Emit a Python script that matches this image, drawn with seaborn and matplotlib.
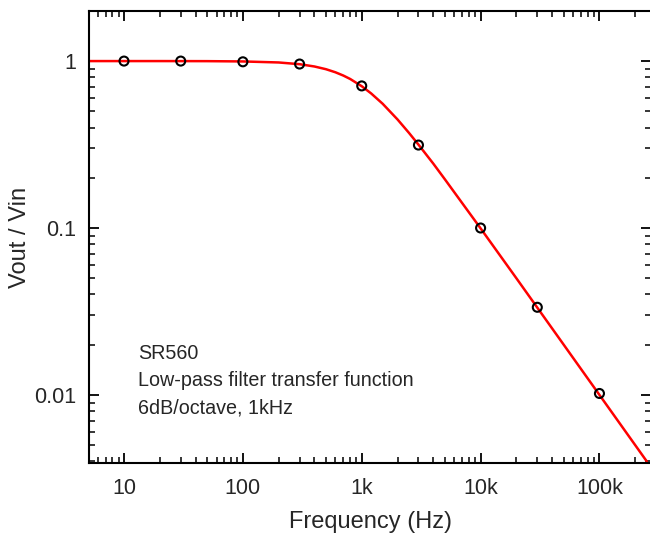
import matplotlib
matplotlib.use("Agg")
import matplotlib.pyplot as plt
import seaborn as sns
import pandas as pd
from matplotlib.ticker import LogLocator, FixedLocator, NullFormatter

# measured points
freq_pts = [10, 30, 100, 300, 1000, 3000, 10000, 30000, 100000]
gain_pts = [1.0, 1.0, 0.99, 0.96, 0.71, 0.314, 0.100, 0.0335, 0.0102]

# fitted curve
freq_curve = [5, 10, 20, 50, 100, 200, 300, 400, 500, 600, 700, 800, 1000, 1200,
              1500, 2000, 2500, 3000, 4000, 5000, 7000, 10000, 20000, 50000,
              100000, 250000]
gain_curve = [1.0, 1.0, 1.0, 0.999, 0.995, 0.981, 0.958, 0.928, 0.894, 0.857,
              0.819, 0.781, 0.707, 0.640, 0.555, 0.447, 0.371, 0.316, 0.243,
              0.196, 0.141, 0.0995, 0.050, 0.020, 0.0100, 0.0040]

x_ticks = [10, 100, 1000, 10000, 100000]
x_labels = ["10", "100", "1k", "10k", "100k"]
y_ticks = [0.01, 0.1, 1]
y_labels = ["0.01", "0.1", "1"]

note = "SR560\nLow-pass filter transfer function\n6dB/octave, 1kHz"

sns.set_style("ticks")
plt.rcParams["font.family"] = ["Liberation Sans", "DejaVu Sans"]

fig = plt.figure(figsize=(6.5, 5.33), dpi=100)
ax = fig.add_axes([0.137, 0.131, 0.865, 0.848])

curve_df = pd.DataFrame({"f": freq_curve, "g": gain_curve})
pts_df = pd.DataFrame({"f": freq_pts, "g": gain_pts})

sns.lineplot(data=curve_df, x="f", y="g", ax=ax, color="#ff0000", linewidth=1.8,
             zorder=2)
sns.scatterplot(data=pts_df, x="f", y="g", ax=ax, marker="o", s=42,
                facecolor="none", edgecolor="black", linewidth=1.5, zorder=3)

ax.set_xscale("log")
ax.set_yscale("log")
ax.set_xlim(5.08, 273000)
ax.set_ylim(0.0039, 1.99)

ax.xaxis.set_major_locator(FixedLocator(x_ticks))
ax.set_xticklabels(x_labels)
ax.yaxis.set_major_locator(FixedLocator(y_ticks))
ax.set_yticklabels(y_labels)
ax.xaxis.set_minor_locator(LogLocator(base=10, subs=range(2, 10), numticks=20))
ax.yaxis.set_minor_locator(LogLocator(base=10, subs=range(2, 10), numticks=20))
ax.xaxis.set_minor_formatter(NullFormatter())
ax.yaxis.set_minor_formatter(NullFormatter())

ax.tick_params(which="both", direction="in", top=True, right=True, color="black")
ax.tick_params(which="major", length=7, width=1.3, labelsize=15.5)
ax.tick_params(axis="x", which="major", pad=11)
ax.tick_params(axis="y", which="major", pad=9)
ax.tick_params(which="minor", length=4, width=1.1)

for s in ax.spines.values():
    s.set_linewidth(1.5)
    s.set_color("black")

ax.set_xlabel("Frequency (Hz)", fontsize=17, labelpad=8)
ax.set_ylabel("Vout / Vin", fontsize=17)
ax.yaxis.set_label_coords(-0.123, 0.5)
ax.yaxis.label.set_verticalalignment("center")

ax.text(0.087, 0.264, note, transform=ax.transAxes, fontsize=14.2,
        va="top", ha="left", linespacing=1.57)

fig.savefig("out.png", dpi=100)
